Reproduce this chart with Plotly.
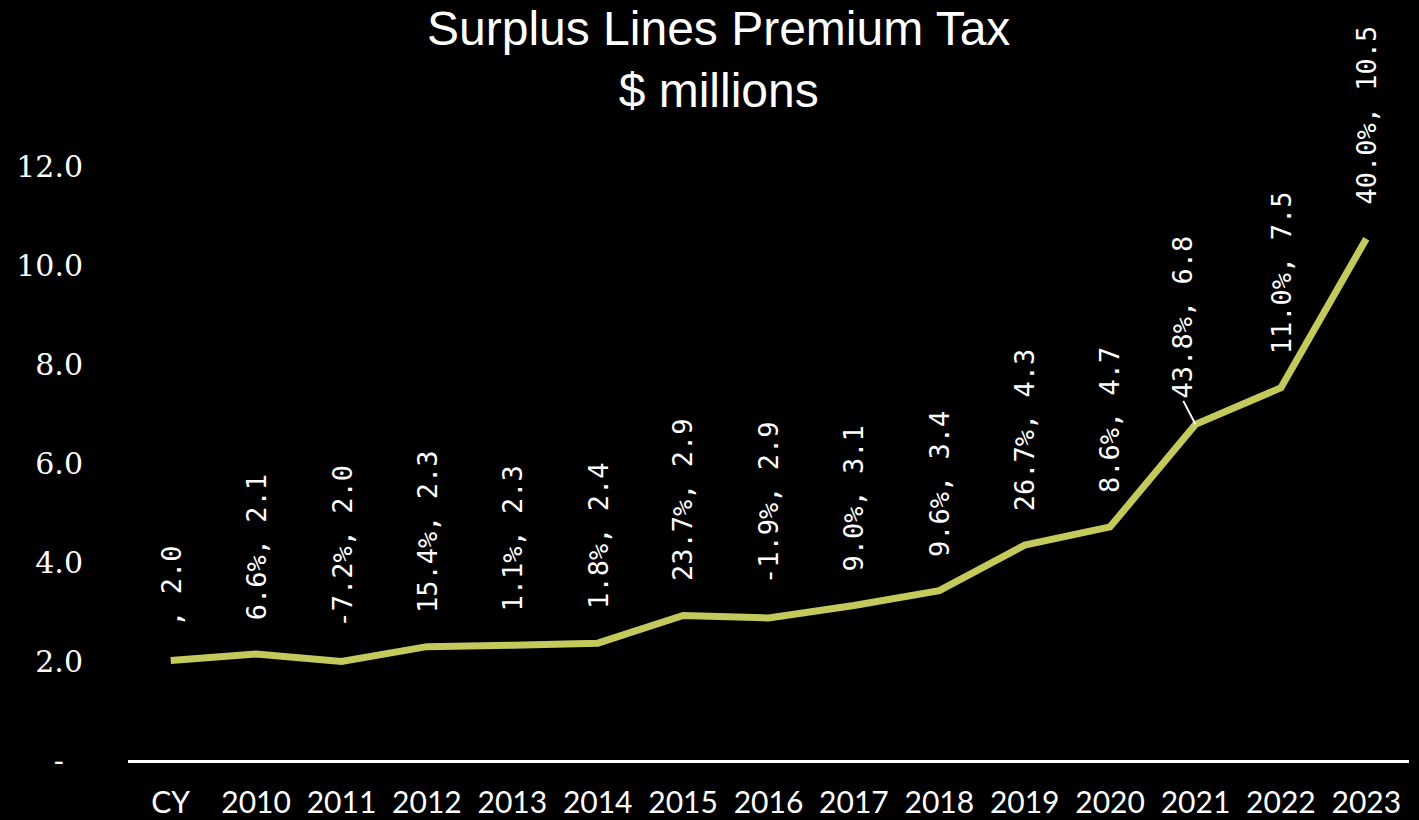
import plotly.graph_objects as go

categories = ["CY", "2010", "2011", "2012", "2013", "2014", "2015", "2016",
              "2017", "2018", "2019", "2020", "2021", "2022", "2023"]
values = [2.01, 2.14, 1.99, 2.29, 2.32, 2.36, 2.92, 2.87, 3.12, 3.42,
          4.34, 4.71, 6.78, 7.52, 10.53]
pct_labels = ["", "6.6%", "-7.2%", "15.4%", "1.1%", "1.8%", "23.7%", "-1.9%",
              "9.0%", "9.6%", "26.7%", "8.6%", "43.8%", "11.0%", "40.0%"]
y_tickvals = [0, 2, 4, 6, 8, 10, 12]
y_ticktext = ["-\u00a0\u00a0", "2.0", "4.0", "6.0", "8.0", "10.0", "12.0"]

LINE_COLOR = "#C4C95C"
LABEL_FONT = dict(family="DejaVu Sans Mono, monospace", size=27, color="#FFFFFF")

fig = go.Figure()
fig.add_trace(go.Scatter(
    x=categories, y=values, mode="lines",
    line=dict(color=LINE_COLOR, width=7),
    hoverinfo="x+y", showlegend=False,
))

for i, (cat, v, p) in enumerate(zip(categories, values, pct_labels)):
    text = f"{p}, {v:.1f}"
    if cat == "2021":
        # leader line
        fig.add_annotation(
            x=i, y=v, text="", showarrow=True, arrowhead=0, arrowwidth=2,
            arrowcolor="#FFFFFF", ax=-13, ay=-25, standoff=0,
        )
        fig.add_annotation(
            x=i, y=v, text=text, textangle=-90, font=LABEL_FONT,
            showarrow=False, xanchor="center", yanchor="bottom",
            xshift=-13, yshift=24,
        )
    else:
        fig.add_annotation(
            x=i, y=v, text=text, textangle=-90, font=LABEL_FONT,
            showarrow=False, xanchor="center", yanchor="bottom", yshift=32,
        )

fig.add_annotation(
    text="Surplus Lines Premium Tax<br>$ millions",
    xref="paper", yref="paper", x=0.4606, y=1.279,
    xanchor="center", yanchor="top", showarrow=False,
    font=dict(family="Liberation Sans, Arial, sans-serif", size=48, color="#FFFFFF"),
)

fig.update_layout(
    width=1419, height=820,
    paper_bgcolor="#000000", plot_bgcolor="#000000",
    margin=dict(l=128, r=10, t=166, b=60),
    xaxis=dict(
        type="category", range=[-0.5, 14.5], automargin=False,
        showgrid=False, zeroline=False,
        showline=True, linecolor="#FFFFFF", linewidth=3,
        ticks="", ticklabelstandoff=14,
        tickfont=dict(family="Lato, sans-serif", size=30, color="#FFFFFF"),
    ),
    yaxis=dict(
        range=[0, 12], tickvals=y_tickvals, ticktext=y_ticktext, automargin=False,
        showgrid=False, zeroline=False, showline=False, ticks="",
        ticklabelstandoff=44,
        tickfont=dict(family="DejaVu Serif, serif", size=30, color="#FFFFFF"),
    ),
)

fig.write_html(
    "out.html",
    config={"displayModeBar": False},
    post_script="document.body.style.margin='0';document.body.style.background='#000';",
)
